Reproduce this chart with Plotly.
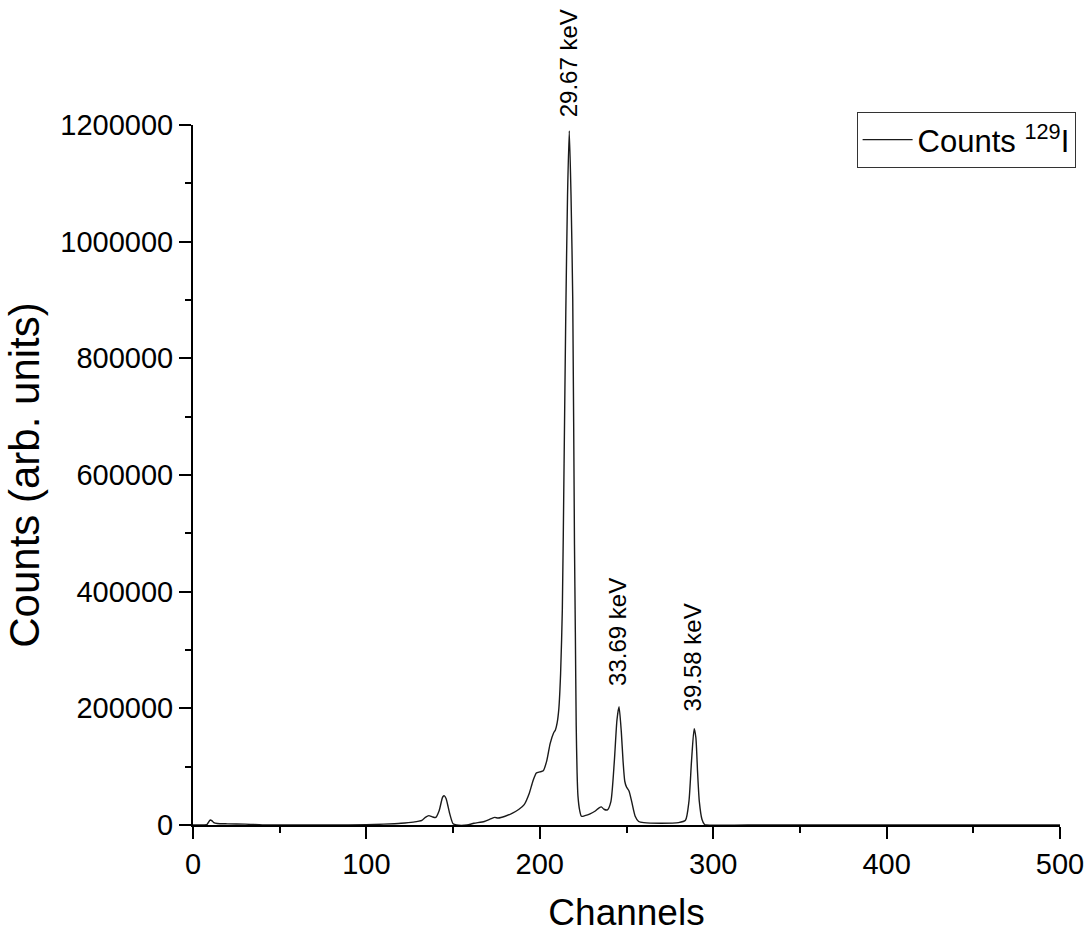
import plotly.graph_objects as go

# Spectrum (channel, counts)
channels = [0, 6, 8, 9, 10, 11, 12, 14, 20, 30, 35, 40, 60, 80, 100, 110, 120, 127, 132,
            134, 136, 138, 140, 142, 144, 145, 146, 148, 150, 152, 158, 162, 168, 172, 174,
            176, 180, 184, 188, 191, 194, 196, 198, 200, 202, 204, 206, 208, 209, 210, 211,
            212, 213, 214, 215, 216, 217, 218, 219, 220, 220.5, 221, 221.5, 222, 223, 224,
            226, 229, 232, 234, 235.5, 237, 239, 241, 243, 244.5, 245.7, 247, 248, 249, 250,
            251.5, 253, 255, 257, 260, 270, 280, 284, 286, 287.5, 289, 290, 291, 292, 293.5,
            295, 296, 320, 400, 500]
counts = [0, 0, 500, 5000, 8500, 7000, 4000, 2500, 2000, 1500, 800, 300, 100, 100, 500,
          1500, 3000, 5000, 8000, 13000, 16000, 14000, 13000, 25000, 48000, 50000, 45000,
          20000, 2000, 0, 0, 3000, 6000, 11000, 13000, 12000, 15000, 20000, 27000, 35000,
          55000, 75000, 89000, 91000, 93000, 110000, 140000, 158000, 163000, 175000, 200000,
          260000, 370000, 620000, 880000, 1080000, 1190000, 1080000, 900000, 480000, 330000,
          170000, 90000, 50000, 25000, 15000, 16000, 19000, 24000, 29000, 31000, 27000, 26000,
          40000, 110000, 180000, 203000, 160000, 110000, 75000, 65000, 58000, 40000, 15000,
          6000, 4000, 3000, 4000, 8000, 40000, 110000, 165000, 150000, 90000, 40000, 10000,
          1000, 0, 0, 0, 0]

peak_labels = ["29.67 keV", "33.69 keV", "39.58 keV"]
peak_x = [216.5, 245.1, 288]
peak_label_y = [1190000, 235000, 192000]
peak_label_shift = [12, 0, 0]

x_ticks = [0, 100, 200, 300, 400, 500]
y_ticks = [0, 200000, 400000, 600000, 800000, 1000000, 1200000]

FONT = "Liberation Sans, Arial, sans-serif"

fig = go.Figure()
fig.add_trace(go.Scatter(
    x=channels, y=counts, mode="lines", name="Counts <sup>129</sup>I",
    line=dict(color="#1a1a1a", width=1.4, shape="spline", smoothing=0.6),
))

for lab, px, py, sh in zip(peak_labels, peak_x, peak_label_y, peak_label_shift):
    fig.add_annotation(x=px, y=py, text=lab, textangle=-90, showarrow=False,
                       xanchor="center", yanchor="bottom", yshift=sh,
                       font=dict(family=FONT, size=24, color="black"))

fig.update_layout(
    width=1091, height=936,
    margin=dict(l=193, r=31, t=125, b=111, autoexpand=False),
    plot_bgcolor="white", paper_bgcolor="white",
    font=dict(family=FONT, color="black"),
    showlegend=True,
    legend=dict(x=1.018, y=1.0186, xanchor="right", yanchor="top",
                bordercolor="#333", borderwidth=1, bgcolor="white",
                font=dict(family=FONT, size=31, color="black"),
                itemwidth=50, tracegroupgap=0),
)

fig.update_xaxes(
    range=[0, 500], tickvals=x_ticks, showgrid=False, zeroline=False, automargin=False,
    showline=True, linecolor="black", linewidth=2,
    ticks="outside", ticklen=12, tickwidth=2, tickcolor="black",
    tickfont=dict(family=FONT, size=29, color="black"),
    minor=dict(ticks="outside", ticklen=6, tickwidth=2, tickcolor="black", dtick=50, tick0=0),
    title=dict(text="Channels", font=dict(family=FONT, size=37, color="black"), standoff=20),
)
fig.update_yaxes(
    range=[0, 1200000], tickvals=y_ticks, tickformat="d", showgrid=False, zeroline=False,
    automargin=False,
    showline=True, linecolor="black", linewidth=2,
    ticks="outside", ticklen=12, tickwidth=2, tickcolor="black",
    tickfont=dict(family=FONT, size=29, color="black"),
    minor=dict(ticks="outside", ticklen=6, tickwidth=2, tickcolor="black", dtick=100000, tick0=0),
    title=dict(text="Counts (arb. units)", font=dict(family=FONT, size=42, color="black"), standoff=8),
)

fig.write_html("out.html")
